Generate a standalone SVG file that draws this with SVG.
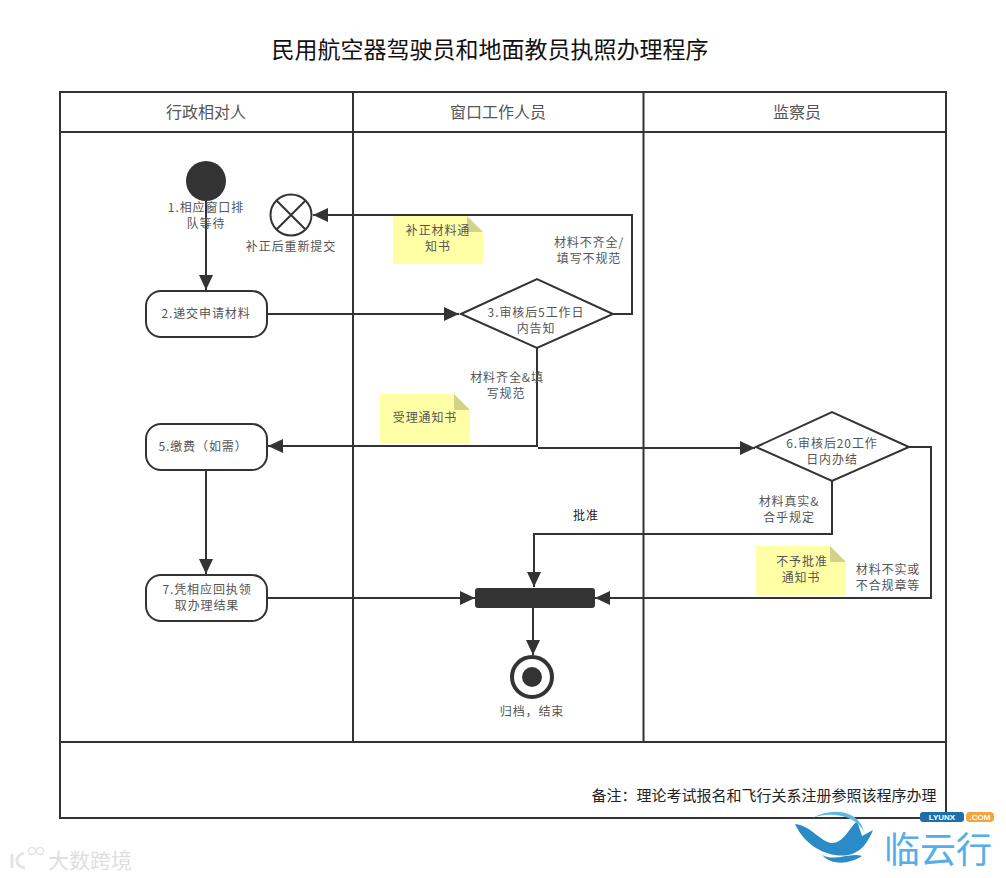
<svg xmlns="http://www.w3.org/2000/svg" width="1006" height="878" viewBox="0 0 1006 878">
<style>
text{font-family:"Noto Sans CJK SC","Liberation Sans",sans-serif;text-anchor:middle}
.l{font-size:12px;letter-spacing:.9px;fill:#555}
.h{font-size:16px;fill:#555}
.s{fill:#fff;stroke:#333;stroke-width:2}
.n{fill:#ffffa6}
.f{fill:#d2d28c}
.c{fill:none;stroke:#333;stroke-width:2}
.b{fill:none;stroke:#333;stroke-width:2}
</style>
<defs>
<marker id="a" markerUnits="userSpaceOnUse" markerWidth="16" markerHeight="14" refX="15" refY="7" orient="auto"><path d="M0 0L15 7L0 14Z" fill="#333"/></marker>
</defs>
<rect width="1006" height="878" fill="#fff"/>
<text x="490" y="58" style="font-size:23px;fill:#111">民用航空器驾驶员和地面教员执照办理程序</text>
<g id="lanes">
<rect class="b" x="60" y="92" width="886" height="726"/>
<path class="b" d="M60 132H946M353 92V742M643.500 92V742M60 742H946"/>
<text class="h" x="206" y="118">行政相对人</text>
<text class="h" x="498" y="118">窗口工作人员</text>
<text class="h" x="797" y="118">监察员</text>
<text x="764" y="801" style="font-size:15px;fill:#222">备注：理论考试报名和飞行关系注册参照该程序办理</text>
</g>
<g id="connectors">
<path class="c" d="M206 200V290" marker-end="url(#a)"/>
<path class="c" d="M267 314H459" marker-end="url(#a)"/>
<path class="c" d="M613 314H632V215H313" marker-end="url(#a)"/>
<path class="c" d="M537 348V446H268" marker-end="url(#a)"/>
<path class="c" d="M538 448H755" marker-end="url(#a)"/>
<path class="c" d="M206 470V574" marker-end="url(#a)"/>
<path class="c" d="M267 598H475" marker-end="url(#a)"/>
<path class="c" d="M832 481V534H534V587" marker-end="url(#a)"/>
<path class="c" d="M909 447H931V598H595" marker-end="url(#a)"/>
<path class="c" d="M533 608V655" marker-end="url(#a)"/>
</g>
<g id="start"><circle cx="206" cy="181" r="20" fill="#333"/><text class="l" x="206" y="212">1.相应窗口排</text><text class="l" x="206" y="228">队等待</text></g>
<g id="cancel"><circle class="s" cx="291" cy="215" r="20.500"/><path class="c" d="M276.500 200.500L305.500 229.500M305.500 200.500L276.500 229.500"/><text class="l" x="291" y="251">补正后重新提交</text></g>
<g id="n2"><rect class="s" x="146" y="291" width="121" height="46" rx="15"/><text class="l" x="206" y="318">2.递交申请材料</text></g>
<g id="n3"><path class="s" d="M461 314L537 279L613 314L537 348Z"/><text class="l" x="536" y="317">3.审核后5工作日</text><text class="l" x="536" y="333">内告知</text></g>
<g id="n5"><rect class="s" x="146" y="424" width="121" height="46" rx="15"/><text class="l" x="203" y="451">5.缴费（如需）</text></g>
<g id="n6"><path class="s" d="M756 447L832 412L909 447L832 481Z"/><text class="l" x="832" y="448">6.审核后20工作</text><text class="l" x="832" y="464">日内办结</text></g>
<g id="n7"><rect class="s" x="146" y="575" width="121" height="46" rx="15"/><text class="l" x="207" y="594">7.凭相应回执领</text><text class="l" x="207" y="610">取办理结果</text></g>
<g id="bar"><rect x="475" y="588" width="120" height="20" rx="3" fill="#333"/></g>
<g id="end"><circle cx="532" cy="677" r="20" fill="#fff" stroke="#333" stroke-width="4"/><circle cx="532" cy="677" r="10" fill="#333"/><text class="l" x="532" y="716">归档，结束</text></g>
<g id="note1"><path class="n" d="M393 216H467L483 232V264H393Z"/><path class="f" d="M467 216L483 232H467Z"/><text class="l" x="438" y="235">补正材料通</text><text class="l" x="438" y="251">知书</text></g>
<g id="note2"><path class="n" d="M380 394H454L470 410V443H380Z"/><path class="f" d="M454 394L470 410H454Z"/><text class="l" x="425" y="422">受理通知书</text></g>
<g id="note3"><path class="n" d="M756 546H830L846 562V596H756Z"/><path class="f" d="M830 546L846 562H830Z"/><text class="l" x="802" y="566">不予批准</text><text class="l" x="801" y="582">通知书</text></g>
<g id="labels">
<text class="l" x="589" y="247">材料不齐全/</text><text class="l" x="589" y="263">填写不规范</text>
<text class="l" x="507" y="382">材料齐全&amp;填</text><text class="l" x="506" y="398">写规范</text>
<text class="l" x="789" y="506">材料真实&amp;</text><text class="l" x="789" y="522">合乎规定</text>
<text class="l" x="586" y="520" style="fill:#222">批准</text>
<text class="l" x="888" y="574">材料不实或</text><text class="l" x="888" y="590">不合规章等</text>
</g>
<g id="watermark-left">
<path d="M12 868V854M24 853C15 855 14 866 25 868" fill="none" stroke="#e4e4e4" stroke-width="3"/>
<circle cx="32" cy="851" r="3.500" fill="none" stroke="#e4e4e4" stroke-width="1.500"/><circle cx="40" cy="851" r="3.500" fill="none" stroke="#e4e4e4" stroke-width="1.500"/>
<text x="90" y="868" style="font-size:21px;fill:#dedede">大数跨境</text>
</g>
<g id="watermark-right">
<path d="M795 824C812 826 820 842 832 843C843 843 848 830 857 821L862 836L873 830C868 843 860 853 848 855C830 858 806 848 795 824Z" fill="#2a8cc6"/>
<path d="M812 818C835 806 860 812 864 832C858 818 835 810 812 818Z" fill="#5cb8e6"/>
<path d="M822 855C835 862 850 852 862 856C850 864 832 866 822 855Z" fill="#2a8cc6"/>
<rect x="920" y="812" width="44" height="10" rx="3" fill="#1d6fa8"/><text x="942" y="820" style="font-family:'Liberation Sans',sans-serif;font-size:8px;font-weight:bold;fill:#fff">LYUNX</text>
<rect x="966" y="812" width="28" height="10" rx="4" fill="#f4a43c"/><text x="980" y="820" style="font-family:'Liberation Sans',sans-serif;font-size:8px;font-weight:bold;fill:#fff">.COM</text>
<text x="938" y="863" style="font-size:36px;fill:#55aeea">临云行</text>
</g>
</svg>
